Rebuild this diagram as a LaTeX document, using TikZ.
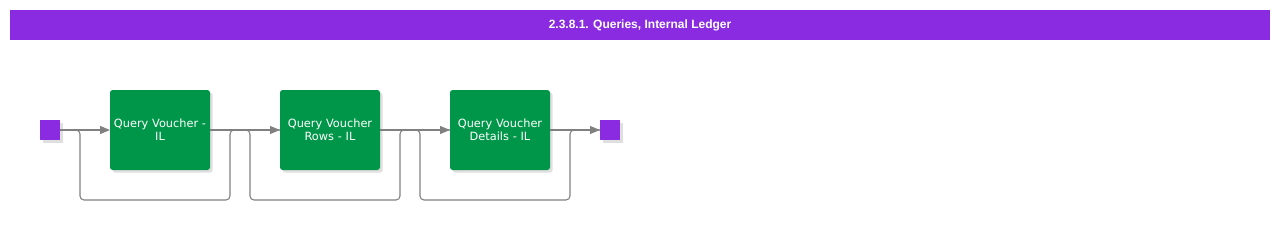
\documentclass[tikz,border=0pt]{standalone}
\usepackage{fontspec}
\setmainfont{DejaVu Sans}
\newfontfamily\titlefont{Liberation Sans}
\usepackage{tikz}
\usetikzlibrary{positioning, shadows, arrows.meta}

\definecolor{lanepurple}{HTML}{8A2BE2}
\definecolor{taskgreen}{HTML}{009649}
\definecolor{flowgray}{HTML}{808080}

\tikzset{
  task/.style={rectangle, rounded corners=2pt, fill=taskgreen, text=white,
    minimum width=75pt, minimum height=60pt, text width=73pt, inner sep=1pt,
    outer sep=0pt, align=center,
    font=\fontsize{8.5pt}{10pt}\selectfont,
    drop shadow={shadow xshift=2pt, shadow yshift=-2pt, fill=black!25}},
  event/.style={rectangle, fill=lanepurple, minimum size=15pt, inner sep=0pt,
    outer sep=0pt,
    drop shadow={shadow xshift=2pt, shadow yshift=-2pt, fill=black!25}},
  flow/.style={color=flowgray, line width=0.8pt, -{Triangle[length=7.5pt, width=6pt]}},
  skip/.style={draw=flowgray, line width=0.8pt, rounded corners=3pt}
}

\begin{document}
\begin{tikzpicture}[x=0.75pt, y=-0.75pt]
    \useasboundingbox (0,0) rectangle (1280,230);

        \node[rectangle, fill=lanepurple, text=white, minimum width=945pt, minimum height=22.5pt,
          font=\titlefont\bfseries\fontsize{9pt}{11pt}\selectfont] (title) at (640,25) {2.3.8.1. Queries, Internal Ledger};

        \node[event] (start) at (50,130) {};
		\node[task] (q1) [right=37.5pt of start] {Query Voucher -\\IL};
		\node[task] (q2) [right=52.5pt of q1] {Query Voucher\\Rows - IL};
		\node[task] (q3) [right=52.5pt of q2] {Query Voucher\\Details - IL};
        \node[event] (end) [right=37.5pt of q3] {};

        % bypass lines under the tasks
        \draw[skip] (start.east) -- ++(15pt,0) -- ++(0,-52.5pt) -| ([xshift=-37.5pt]q2.west) -- (q2.west);
        \draw[skip] (q1.east) -- ++(30pt,0) -- ++(0,-52.5pt) -| ([xshift=-37.5pt]q3.west) -- (q3.west);
        \draw[skip] (q2.east) -- ++(30pt,0) -- ++(0,-52.5pt) -| ([xshift=-22.5pt]end.west) -- (end.west);

		\path[flow]
        (start) edge (q1)
        (q1) edge (q2)
        (q2) edge (q3)
        (q3) edge (end);

    \end{tikzpicture}
\end{document}
